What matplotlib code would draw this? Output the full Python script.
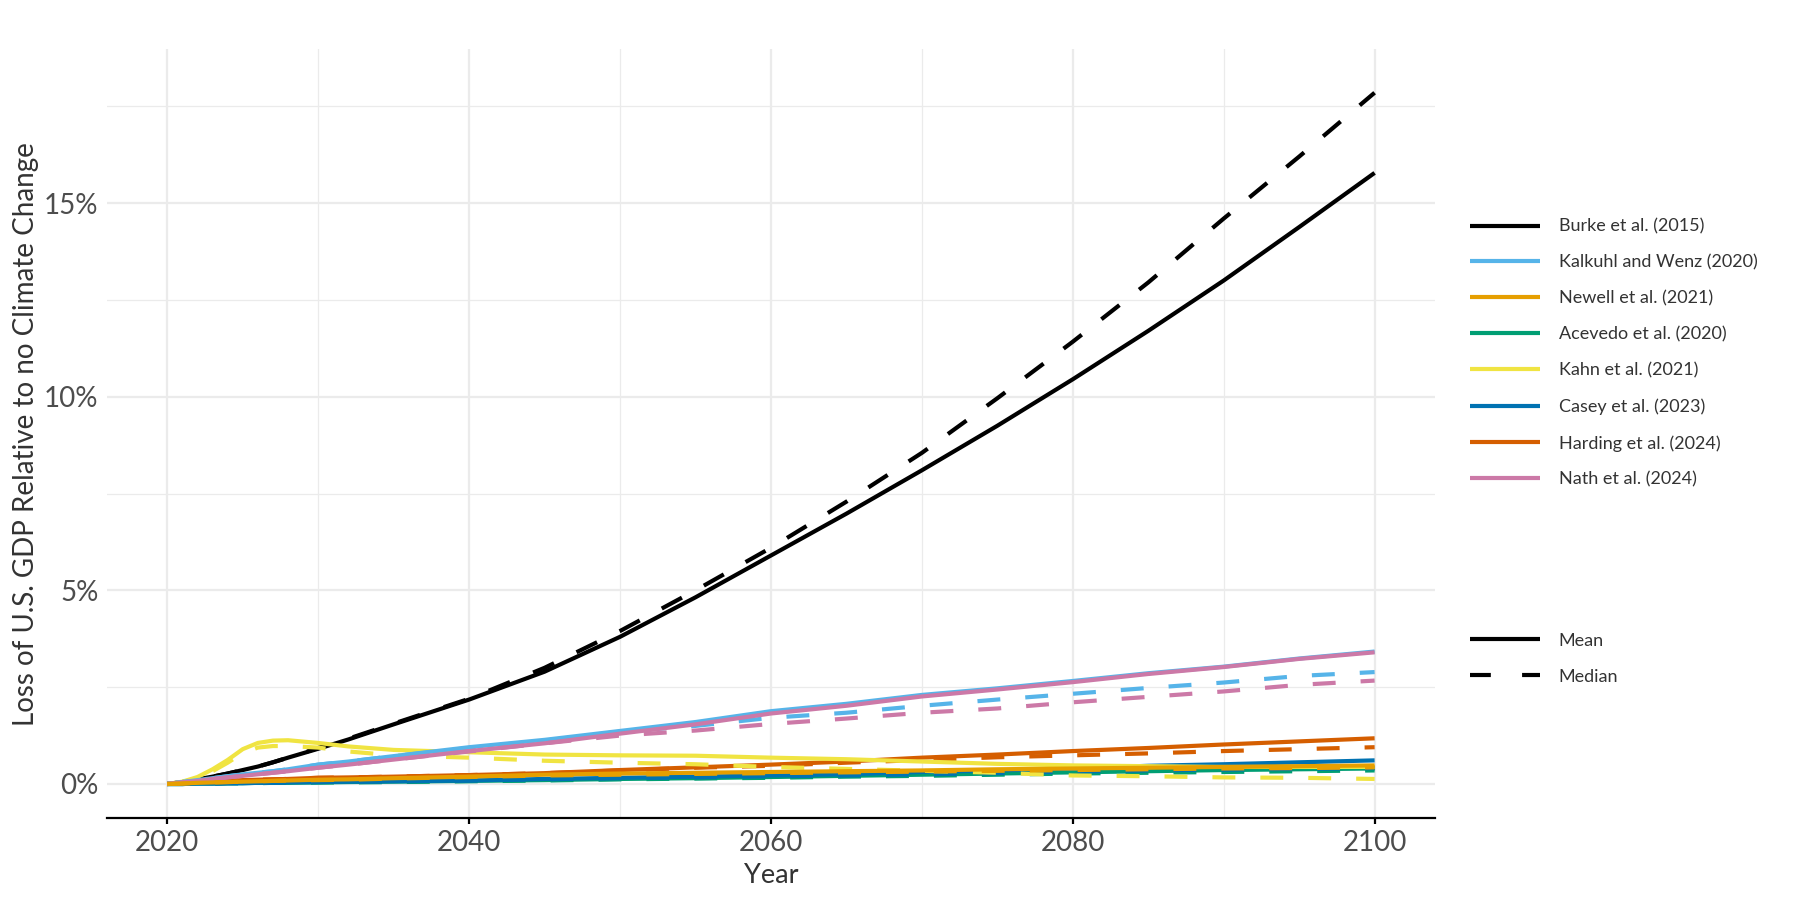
import numpy as np
import matplotlib as mpl
mpl.use('Agg')
import matplotlib.pyplot as plt
from matplotlib.lines import Line2D
from matplotlib.ticker import MultipleLocator, FuncFormatter

plt.rcParams['font.family'] = ['Lato', 'DejaVu Sans']

years = [2020, 2021, 2022, 2023, 2024, 2025, 2026, 2027, 2028, 2030,
         2032, 2035, 2040, 2045, 2050, 2055, 2060, 2065, 2070, 2075,
         2080, 2085, 2090, 2095, 2100]

# loss of GDP in %, mean and median per study
burke_mean = [0, 0.05, 0.12, 0.19, 0.27, 0.36, 0.45, 0.56, 0.68, 0.91,
              1.15, 1.54, 2.18, 2.9, 3.8, 4.82, 5.9, 6.98, 8.1, 9.25,
              10.45, 11.7, 13.0, 14.38, 15.78]
burke_median = [0, 0.05, 0.12, 0.19, 0.27, 0.36, 0.45, 0.56, 0.68, 0.93,
                1.17, 1.56, 2.2, 3.0, 3.95, 5.0, 6.1, 7.29, 8.55, 9.96,
                11.42, 12.95, 14.6, 16.2, 17.85]

kalkuhl_mean = [0, 0.05, 0.1, 0.15, 0.2, 0.25, 0.29, 0.33, 0.38, 0.5,
                0.58, 0.72, 0.95, 1.14, 1.37, 1.6, 1.88, 2.07, 2.3, 2.47,
                2.66, 2.86, 3.03, 3.24, 3.42]
kalkuhl_median = [0, 0.05, 0.1, 0.15, 0.2, 0.25, 0.29, 0.33, 0.38, 0.5,
                  0.58, 0.72, 0.93, 1.12, 1.35, 1.5, 1.71, 1.84, 2.02, 2.18,
                  2.33, 2.48, 2.62, 2.79, 2.89]

newell_mean = [0, 0.01, 0.03, 0.04, 0.05, 0.06, 0.07, 0.08, 0.09, 0.11,
               0.12, 0.15, 0.19, 0.24, 0.27, 0.29, 0.31, 0.33, 0.35, 0.38,
               0.4, 0.42, 0.44, 0.46, 0.48]
newell_median = [0, 0.01, 0.03, 0.04, 0.05, 0.06, 0.07, 0.08, 0.09, 0.1,
                 0.11, 0.14, 0.18, 0.22, 0.24, 0.26, 0.28, 0.3, 0.32, 0.34,
                 0.36, 0.38, 0.4, 0.41, 0.43]

acevedo_mean = [0, 0.0, 0.01, 0.01, 0.02, 0.02, 0.03, 0.03, 0.03, 0.04,
                0.05, 0.06, 0.08, 0.1, 0.13, 0.15, 0.18, 0.21, 0.24, 0.27,
                0.3, 0.33, 0.36, 0.38, 0.4]
acevedo_median = [0, 0.0, 0.01, 0.01, 0.02, 0.02, 0.02, 0.03, 0.03, 0.04,
                  0.04, 0.05, 0.07, 0.09, 0.12, 0.14, 0.16, 0.19, 0.21, 0.24,
                  0.27, 0.29, 0.31, 0.33, 0.35]

kahn_mean = [0, 0.06, 0.18, 0.38, 0.62, 0.9, 1.06, 1.12, 1.13, 1.06,
             0.97, 0.88, 0.82, 0.76, 0.74, 0.73, 0.68, 0.64, 0.58, 0.52,
             0.48, 0.46, 0.44, 0.44, 0.44]
kahn_median = [0, 0.05, 0.15, 0.33, 0.55, 0.8, 0.94, 0.98, 0.98, 0.94,
               0.84, 0.74, 0.68, 0.6, 0.55, 0.51, 0.44, 0.39, 0.34, 0.29,
               0.22, 0.2, 0.17, 0.16, 0.13]

casey_mean = [0, 0.0, 0.01, 0.01, 0.02, 0.02, 0.03, 0.03, 0.04, 0.05,
              0.06, 0.07, 0.09, 0.13, 0.16, 0.19, 0.22, 0.25, 0.31, 0.35,
              0.4, 0.47, 0.51, 0.56, 0.61]
casey_median = [0, 0.0, 0.01, 0.01, 0.02, 0.02, 0.03, 0.03, 0.04, 0.05,
                0.06, 0.07, 0.09, 0.12, 0.15, 0.17, 0.2, 0.22, 0.25, 0.28,
                0.32, 0.35, 0.37, 0.39, 0.41]

harding_mean = [0, 0.03, 0.05, 0.07, 0.08, 0.1, 0.11, 0.12, 0.13, 0.16,
                0.17, 0.19, 0.23, 0.28, 0.36, 0.43, 0.5, 0.58, 0.68, 0.76,
                0.85, 0.93, 1.02, 1.1, 1.18]
harding_median = [0, 0.03, 0.05, 0.07, 0.08, 0.1, 0.11, 0.12, 0.13, 0.16,
                  0.17, 0.19, 0.23, 0.28, 0.35, 0.42, 0.47, 0.55, 0.62, 0.69,
                  0.74, 0.79, 0.85, 0.9, 0.95]

nath_mean = [0, 0.04, 0.08, 0.13, 0.17, 0.21, 0.25, 0.29, 0.33, 0.42,
             0.5, 0.63, 0.85, 1.05, 1.3, 1.54, 1.82, 2.02, 2.26, 2.44,
             2.63, 2.84, 3.02, 3.23, 3.4]
nath_median = [0, 0.04, 0.08, 0.13, 0.17, 0.21, 0.25, 0.29, 0.33, 0.42,
               0.5, 0.63, 0.84, 1.05, 1.25, 1.38, 1.55, 1.69, 1.84, 1.95,
               2.11, 2.25, 2.39, 2.56, 2.67]

studies = ["Burke et al. (2015)", "Kalkuhl and Wenz (2020)", "Newell et al. (2021)",
           "Acevedo et al. (2020)", "Kahn et al. (2021)", "Casey et al. (2023)",
           "Harding et al. (2024)", "Nath et al. (2024)"]
colors = ["#000000", "#56B4E9", "#E69F00", "#009E73",
          "#F0E442", "#0072B2", "#D55E00", "#CC79A7"]
means = [burke_mean, kalkuhl_mean, newell_mean, acevedo_mean,
         kahn_mean, casey_mean, harding_mean, nath_mean]
medians = [burke_median, kalkuhl_median, newell_median, acevedo_median,
           kahn_median, casey_median, harding_median, nath_median]

fig = plt.figure(figsize=(18, 9), dpi=100)
ax = fig.add_axes([0.0594, 0.0906, 0.7378, 0.855])

lw = 3.0
dash = (5.5, 6.0)
# draw in alphabetical order like the original
order = sorted(range(len(studies)), key=lambda i: studies[i])
for i in order:
    ax.plot(years, means[i], color=colors[i], lw=lw, solid_capstyle='butt',
            solid_joinstyle='round', zorder=3)
    ax.plot(years, medians[i], color=colors[i], lw=lw, dashes=dash,
            dash_capstyle='butt', zorder=3)

ax.set_xlim(2016, 2104)
ax.set_ylim(-0.89, 18.98)
ax.xaxis.set_major_locator(MultipleLocator(20))
ax.xaxis.set_minor_locator(MultipleLocator(10))
ax.yaxis.set_major_locator(MultipleLocator(5))
ax.yaxis.set_minor_locator(MultipleLocator(2.5))
ax.yaxis.set_major_formatter(FuncFormatter(lambda v, p: "{:.0f}%".format(v)))

ax.grid(which='major', color='#ebebeb', lw=1.6, zorder=0)
ax.grid(which='minor', color='#ebebeb', lw=0.9, zorder=0)
ax.set_axisbelow(True)
for s in ['top', 'right', 'left']:
    ax.spines[s].set_visible(False)
ax.spines['bottom'].set_color('black')
ax.spines['bottom'].set_linewidth(1.6)

ax.tick_params(axis='x', which='major', length=4, width=1.6, color='black',
               labelsize=20, labelcolor='#4d4d4d', pad=4)
ax.tick_params(axis='x', which='minor', length=0)
ax.tick_params(axis='y', which='both', length=0, labelsize=20,
               labelcolor='#4d4d4d', pad=6)

ax.set_xlabel("Year", fontsize=19.5, color='#333333', labelpad=5)
ax.set_ylabel("Loss of U.S. GDP Relative to no Climate Change", fontsize=20,
              color='#333333', labelpad=4)

h1 = [Line2D([], [], color=c, lw=lw, solid_capstyle='butt') for c in colors]
leg1 = fig.legend(h1, studies, loc='upper left', bbox_to_anchor=(0.8167, 0.757),
                  frameon=False, fontsize=13, handlelength=3.85, handletextpad=1.05,
                  labelspacing=1.1, borderpad=0, borderaxespad=0)
for t in leg1.get_texts():
    t.set_color('#333333')

h2 = [Line2D([], [], color='black', lw=lw, solid_capstyle='butt'),
      Line2D([], [], color='black', lw=lw, dashes=(5.0, 7.5), dash_capstyle='butt')]
leg2 = fig.legend(h2, ["Mean", "Median"], loc='upper left',
                  bbox_to_anchor=(0.8167, 0.297), frameon=False, fontsize=13,
                  handlelength=3.85, handletextpad=1.05, labelspacing=1.1,
                  borderpad=0, borderaxespad=0)
for t in leg2.get_texts():
    t.set_color('#333333')

fig.savefig("out.png", dpi=100, facecolor='white')
